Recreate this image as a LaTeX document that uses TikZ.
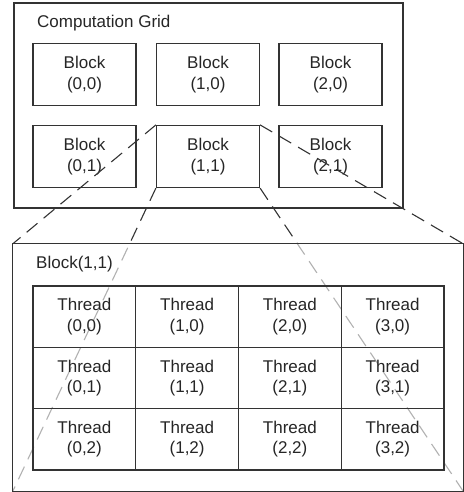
\documentclass[tikz,border=0pt]{standalone}
\usepackage{fontspec}
\setmainfont{Liberation Sans}
\begin{document}
\begin{tikzpicture}[x=1pt,y=-1pt,
  ink/.style={draw=black!80,line width=1.2pt},
  cell/.style={ink,rectangle,minimum width=103pt,minimum height=62pt,
    inner sep=0pt,align=center,font=\fontsize{17}{20.5}\selectfont,text=black!85},
  tcell/.style={cell,minimum width=102.75pt,minimum height=61.33pt},
  title/.style={anchor=base west,inner sep=0pt,font=\fontsize{17}{20.5}\selectfont,text=black!85},
  zoomline/.style={draw=black!80,line width=1.1pt,dash pattern=on 14pt off 8pt}]
\useasboundingbox (0,0) rectangle (463,492);

% computation grid with its six blocks
\node[ink,rectangle,minimum width=389pt,minimum height=205pt,inner sep=0pt] (grid) at (208.5,105.5) {};
\node[title] (gridlabel) at (37,28) {Computation Grid};
\foreach \i/\cx in {0/84.5,1/208,2/330.5}{
  \node[cell] (b\i0) at (\cx,74.5) {Block\\(\i,0)};
  \node[cell] (b\i1) at (\cx,156.5) {Block\\(\i,1)};
}

% close-up of block (1,1)
\node[rectangle,minimum width=450pt,minimum height=247pt,inner sep=0pt] (blockview) at (238,367.5) {};

% projection lines from block (1,1) to its close-up
\draw[zoomline] (b11.north west) -- (blockview.north west);
\draw[zoomline] (b11.north east) -- (blockview.north east);
\draw[zoomline] (b11.south west) -- (blockview.south west);
\draw[zoomline] (b11.south east) -- (blockview.south east);

% veil the lines inside the close-up, then its frame
\fill[white,fill opacity=0.62] (blockview.north west) rectangle (blockview.south east);
\draw[draw=black!80,line width=1.2pt] (blockview.north west) rectangle (blockview.south east);
\node[title] (viewlabel) at (36,268) {Block(1,1)};

% thread table
\foreach \i in {0,...,3}{
  \foreach \j in {0,1,2}{
    \node[tcell] (t\i\j) at ({33+102.75*(\i+0.5)},{286+61.33*(\j+0.5)}) {Thread\\(\i,\j)};
  }
}
\end{tikzpicture}
\end{document}
